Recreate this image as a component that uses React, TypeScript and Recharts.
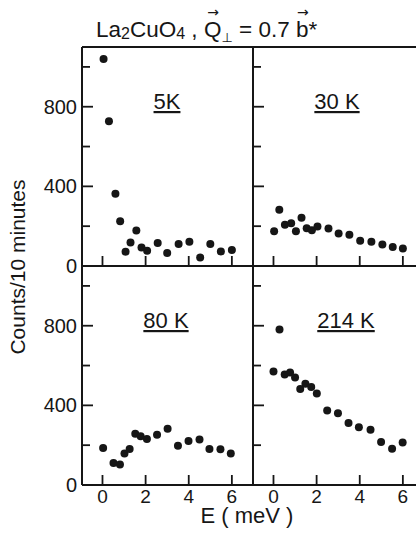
import React from 'react';
import { ScatterChart, Scatter, XAxis, YAxis } from 'recharts';

const INK = '#161616';
const FONT = '"Liberation Sans", Arial, Helvetica, sans-serif';

const energyTicks = [0, 2, 4, 6];
const countTicks = [0, 200, 400, 600, 800, 1000];

// 5 K
const e5K = [0.05, 0.3, 0.6, 0.82, 1.07, 1.3, 1.57, 1.81, 2.07, 2.56, 3.0, 3.53, 4.03, 4.53, 5.0, 5.49, 6.0];
const c5K = [1040, 727, 363, 225, 72, 118, 178, 93, 77, 115, 65, 110, 122, 43, 110, 73, 80];

// 30 K
const e30K = [0.03, 0.27, 0.53, 0.82, 1.04, 1.3, 1.54, 1.78, 2.04, 2.55, 3.02, 3.52, 4.02, 4.54, 5.05, 5.53, 6.0];
const c30K = [175, 283, 207, 215, 175, 242, 190, 180, 198, 188, 163, 157, 127, 122, 108, 95, 88];

// 80 K
const e80K = [0.03, 0.51, 0.81, 1.02, 1.26, 1.52, 1.77, 2.06, 2.53, 3.02, 3.5, 3.99, 4.5, 4.96, 5.47, 5.95];
const c80K = [186, 111, 103, 158, 181, 258, 245, 231, 253, 282, 197, 221, 229, 181, 179, 158];

// 214 K
const e214K = [0, 0.28, 0.52, 0.77, 1.0, 1.24, 1.48, 1.75, 2.01, 2.49, 2.99, 3.48, 3.96, 4.5, 4.99, 5.5, 5.99];
const c214K = [570, 781, 555, 565, 540, 482, 508, 492, 460, 374, 361, 312, 290, 277, 216, 182, 214];

const toPoints = (e: number[], c: number[]) => e.map((v, i) => ({ e: v, c: c[i] }));

const W = 430;
const H = 533;
const AXIS_X = 82;
const PLOT_W = 171;
const E_DOMAIN: [number, number] = [-0.95, 6.98];
const C_DOMAIN: [number, number] = [0, 1100];
const axisLine = { stroke: INK, strokeWidth: 2 };

const Dot = (p: any) => <circle cx={p.cx} cy={p.cy} r={4} fill={INK} />;

const BottomTick = ({ x, y, payload, labels }: any) => (
  <g>
    <line x1={x} x2={x} y1={y} y2={y - 10} stroke={INK} strokeWidth={1.8} />
    {labels && (
      <text x={x} y={y + 18} textAnchor="middle" fontSize={19} fontFamily={FONT} fill={INK}>
        {payload.value}
      </text>
    )}
  </g>
);

const TopTick = ({ x, y }: any) => (
  <line x1={x} x2={x} y1={y} y2={y + 9} stroke={INK} strokeWidth={1.8} />
);

const LeftTick = ({ x, y, payload, labels }: any) => {
  const major = payload.value % 400 === 0;
  return (
    <g>
      <line x1={x + 5} x2={x + 5 + (major ? 11 : 8)} y1={y} y2={y} stroke={INK} strokeWidth={1.8} />
      {labels && major && (
        <text x={x} y={y + 7} textAnchor="end" fontSize={20} fontFamily={FONT} fill={INK}>
          {payload.value}
        </text>
      )}
    </g>
  );
};

interface PanelProps {
  points: { e: number; c: number }[];
  offsetX: number;
  plotTop: number;
  plotBottom: number;
  yLabels: boolean;
  xLabels: boolean;
  topTicks: boolean;
}

// axes need a non-zero height to be drawn, so each x axis gets 1px
const Panel: React.FC<PanelProps> = ({ points, offsetX, plotTop, plotBottom, yLabels, xLabels, topTicks }) => (
  <div style={{ position: 'absolute', left: offsetX, top: 0 }}>
    <ScatterChart
      width={W}
      height={H}
      margin={{ top: plotTop - 1, bottom: H - plotBottom - 1, left: 0, right: W - AXIS_X - PLOT_W }}
    >
      <XAxis
        xAxisId="b"
        type="number"
        dataKey="e"
        domain={E_DOMAIN}
        ticks={energyTicks}
        interval={0}
        height={1}
        tickSize={0}
        tickMargin={0}
        tickLine={false}
        axisLine={axisLine}
        tick={(p: any) => <BottomTick {...p} labels={xLabels} />}
      />
      <XAxis
        xAxisId="t"
        orientation="top"
        type="number"
        dataKey="e"
        domain={E_DOMAIN}
        ticks={energyTicks}
        interval={0}
        height={1}
        tickSize={0}
        tickMargin={0}
        tickLine={false}
        axisLine={axisLine}
        tick={topTicks ? (p: any) => <TopTick {...p} /> : false}
      />
      <YAxis
        yAxisId="l"
        type="number"
        dataKey="c"
        domain={C_DOMAIN}
        ticks={countTicks}
        interval={0}
        width={AXIS_X}
        tickSize={0}
        tickMargin={5}
        tickLine={false}
        axisLine={axisLine}
        tick={(p: any) => <LeftTick {...p} labels={yLabels} />}
      />
      <Scatter xAxisId="b" yAxisId="l" data={points} shape={Dot} isAnimationActive={false} />
    </ScatterChart>
  </div>
);

const Vec: React.FC<{ children: React.ReactNode }> = ({ children }) => (
  <span style={{ position: 'relative', display: 'inline-block' }}>
    {children}
    <span
      style={{
        position: 'absolute',
        left: 1,
        right: 0,
        top: -12,
        textAlign: 'center',
        fontSize: 14,
        lineHeight: '14px',
        fontFamily: '"DejaVu Sans", sans-serif',
      }}
    >
      →
    </span>
  </span>
);

const panelLabel = {
  fontSize: 22,
  fontFamily: FONT,
  fill: INK,
  textAnchor: 'middle' as const,
  style: { textDecoration: 'underline', textDecorationThickness: '2px', textUnderlineOffset: '3px' },
};

export default function App() {
  return (
    <div
      style={{
        position: 'absolute',
        left: 0,
        top: 0,
        width: 416,
        height: 533,
        overflow: 'hidden',
        background: '#fff',
        fontFamily: FONT,
        color: INK,
      }}
    >
      <div
        style={{
          position: 'absolute',
          left: 96,
          top: 17,
          fontSize: 22.5,
          lineHeight: '26px',
          whiteSpace: 'nowrap',
        }}
      >
        La<span style={{ fontSize: 16, position: 'relative', top: 2 }}>2</span>CuO
        <span style={{ fontSize: 16, position: 'relative', top: 2 }}>4</span> , <Vec>Q</Vec>
        <span style={{ fontSize: 13, position: 'relative', top: 5, fontFamily: '"DejaVu Sans", sans-serif', color: INK }}>⊥</span>
        {' '}= 0.7 <Vec>b</Vec>*
      </div>

      <Panel points={toPoints(e5K, c5K)} offsetX={0} plotTop={47} plotBottom={266} yLabels xLabels={false} topTicks={false} />
      <Panel points={toPoints(e30K, c30K)} offsetX={PLOT_W} plotTop={47} plotBottom={266} yLabels={false} xLabels={false} topTicks={false} />
      <Panel points={toPoints(e80K, c80K)} offsetX={0} plotTop={266} plotBottom={485} yLabels xLabels topTicks />
      <Panel points={toPoints(e214K, c214K)} offsetX={PLOT_W} plotTop={266} plotBottom={485} yLabels={false} xLabels topTicks />

      <svg width={416} height={533} style={{ position: 'absolute', left: 0, top: 0, pointerEvents: 'none' }}>
        <text x={167} y={109} {...panelLabel}>5K</text>
        <text x={337} y={109} {...panelLabel}>30 K</text>
        <text x={166} y={328} {...panelLabel}>80 K</text>
        <text x={346} y={328} {...panelLabel}>214 K</text>
        <text x={25} y={267} transform="rotate(-90 25 267)" textAnchor="middle" fontSize={21} fontFamily={FONT} fill={INK}>
          Counts/10 minutes
        </text>
        <text x={247} y={523} textAnchor="middle" fontSize={22} fontFamily={FONT} fill={INK}>
          E ( meV )
        </text>
      </svg>
    </div>
  );
}
